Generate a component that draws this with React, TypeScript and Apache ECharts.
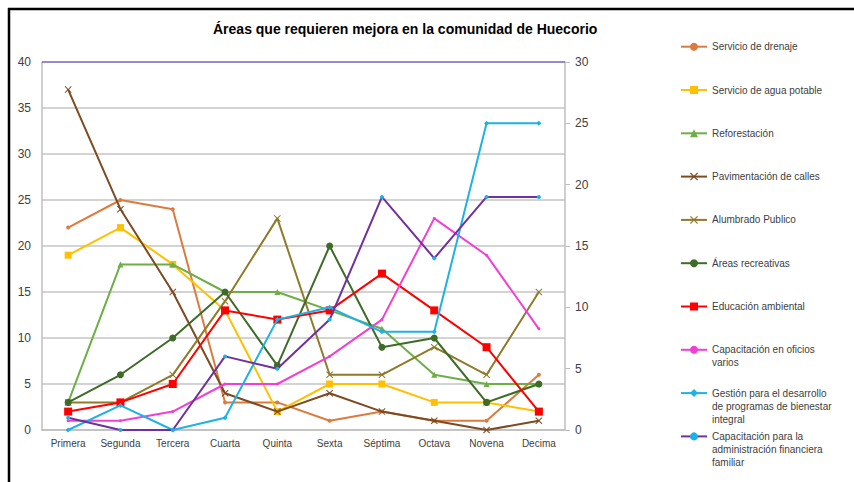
import React, { useEffect, useRef } from 'react';
import * as echarts from 'echarts';

const categories = ['Primera', 'Segunda', 'Tercera', 'Cuarta', 'Quinta', 'Sexta', 'Séptima', 'Octava', 'Novena', 'Decima'];

// left axis series
const drenaje = [22, 25, 24, 3, 3, 1, 2, 1, 1, 6];
const aguaPotable = [19, 22, 18, 13, 2, 5, 5, 3, 3, 2];
const reforestacion = [3, 18, 18, 15, 15, 13, 11, 6, 5, 5];
const pavimentacion = [37, 24, 15, 4, 2, 4, 2, 1, 0, 1];
const alumbrado = [3, 3, 6, 14, 23, 6, 6, 9, 6, 15];
const areasRecreativas = [3, 6, 10, 15, 7, 20, 9, 10, 3, 5];
const educacion = [2, 3, 5, 13, 12, 13, 17, 13, 9, 2];
const oficios = [1, 1, 2, 5, 5, 8, 12, 23, 19, 11];
// right axis series
const gestion = [0, 2, 0, 1, 9, 10, 8, 8, 25, 25];
const adminFinanciera = [1, 0, 0, 6, 5, 9, 19, 14, 19, 19];

const seriesNames = [
  'Servicio de drenaje',
  'Servicio de agua potable',
  'Reforestación',
  'Pavimentación de calles',
  'Alumbrado Publico',
  'Áreas recreativas',
  'Educación ambiental',
  'Capacitación en oficios varios',
  'Gestión para el desarrollo de programas de bienestar integral',
  'Capacitación para la administración financiera familiar',
];
const legendLabels = [
  'Servicio de drenaje',
  'Servicio de agua potable',
  'Reforestación',
  'Pavimentación de calles',
  'Alumbrado Publico',
  'Áreas recreativas',
  'Educación ambiental',
  'Capacitación en oficios\nvarios',
  'Gestión para el desarrollo\nde programas de bienestar\nintegral',
  'Capacitación para la\nadministración financiera\nfamiliar',
];
const leftMax = 40;
const rightMax = 30;
const title = 'Áreas que requieren mejora en la comunidad de Huecorio';

const FONT = '"Liberation Sans", Arial, sans-serif';
const CROSS = 'path://M0,1L1,0L5,4L9,0L10,1L6,5L10,9L9,10L5,6L1,10L0,9L4,5Z';

export default function App() {
  const ref = useRef<HTMLDivElement>(null);
  useEffect(() => {
    if (!ref.current) return;
    const chart = echarts.init(ref.current, null, { renderer: 'svg' });

    const seriesDefs = [
      { data: drenaje, color: '#DB7B3E', symbol: 'circle', size: 4, axis: 0 },
      { data: aguaPotable, color: '#FFC000', symbol: 'rect', size: 7, axis: 0 },
      { data: reforestacion, color: '#6DAE47', symbol: 'triangle', size: 6, axis: 0 },
      { data: pavimentacion, color: '#7D4A22', symbol: CROSS, size: 7, axis: 0 },
      { data: alumbrado, color: '#8F7A2A', symbol: CROSS, size: 7, axis: 0 },
      { data: areasRecreativas, color: '#3E6B28', symbol: 'circle', size: 7, axis: 0 },
      { data: educacion, color: '#FF0000', symbol: 'rect', size: 8, axis: 0 },
      { data: oficios, color: '#F23FD2', symbol: 'circle', size: 3, axis: 0 },
      { data: gestion, color: '#1EB1E6', symbol: 'diamond', size: 5, axis: 1 },
      { data: adminFinanciera, color: '#7030A0', symbol: 'circle', size: 4, axis: 1, markerColor: '#1EB1E6' },
    ];

    const series: any[] = seriesDefs.map((d, i) => ({
      type: 'line',
      name: seriesNames[i],
      data: d.data,
      yAxisIndex: d.axis,
      symbol: d.symbol,
      symbolSize: d.size,
      showAllSymbol: true,
      lineStyle: { color: d.color, width: 2 },
      itemStyle: { color: (d as any).markerColor || d.color },
      emphasis: { disabled: true },
      z: 2 + i,
    }));
    series[0].markLine = {
      silent: true,
      symbol: 'none',
      label: { show: false },
      lineStyle: { color: '#7F72CC', type: 'solid', width: 1.5 },
      data: [{ yAxis: leftMax }],
    };

    const lh = 13;
    const legends = seriesNames.map((name, i) => {
      const n = legendLabels[i].split('\n').length;
      const firstLine = 46.7 + 43.3 * i;
      return {
        data: [name],
        orient: 'vertical',
        left: 680,
        top: firstLine - ((2 * n - 1) * lh) / 2,
        padding: 0,
        itemWidth: 26,
        itemHeight: 10,
        itemGap: 0,
        selectedMode: false,
        formatter: () => '\n'.repeat(n - 1) + legendLabels[i],
        textStyle: {
          fontSize: 10,
          lineHeight: lh,
          color: '#404040',
          fontFamily: FONT,
        },
      };
    });

    chart.setOption({
      animation: false,
      backgroundColor: '#ffffff',
      title: {
        text: title,
        left: 213,
        top: 22,
        padding: 0,
        textStyle: { fontSize: 14, fontWeight: 'bold', color: '#000000', fontFamily: FONT },
      },
      legend: legends,
      grid: { left: 42, right: 289, top: 62, bottom: 52, containLabel: false },
      xAxis: {
        type: 'category',
        data: categories,
        boundaryGap: true,
        axisLine: { show: true, lineStyle: { color: '#BFBFBF', width: 1.5 } },
        axisTick: { show: false },
        axisLabel: { fontSize: 10, color: '#404040', fontFamily: FONT, margin: 8, interval: 0 },
      },
      yAxis: [
        {
          type: 'value',
          min: 0,
          max: leftMax,
          interval: 5,
          axisLine: { show: true, lineStyle: { color: '#BFBFBF', width: 1.5 } },
          axisTick: { show: false },
          axisLabel: { fontSize: 12, color: '#404040', fontFamily: FONT, margin: 11 },
          splitLine: { show: true, lineStyle: { color: '#C4C4C4', width: 1.5 } },
        },
        {
          type: 'value',
          min: 0,
          max: rightMax,
          interval: 5,
          position: 'right',
          axisLine: { show: true, lineStyle: { color: '#BFBFBF', width: 1.5 } },
          axisTick: { show: true, length: 5, lineStyle: { color: '#BFBFBF' } },
          axisLabel: { fontSize: 12, color: '#404040', fontFamily: FONT, margin: 10 },
          splitLine: { show: false },
        },
      ],
      graphic: [
        { type: 'line', shape: { x1: 8, y1: 9, x2: 854, y2: 9 }, style: { stroke: '#000000', lineWidth: 2.5 } },
        { type: 'line', shape: { x1: 9, y1: 8, x2: 9, y2: 482 }, style: { stroke: '#000000', lineWidth: 2.5 } },
      ],
      series,
    });

    return () => chart.dispose();
  }, []);

  return <div ref={ref} style={{ position: 'fixed', left: 0, top: 0, width: 854, height: 482 }} />;
}
